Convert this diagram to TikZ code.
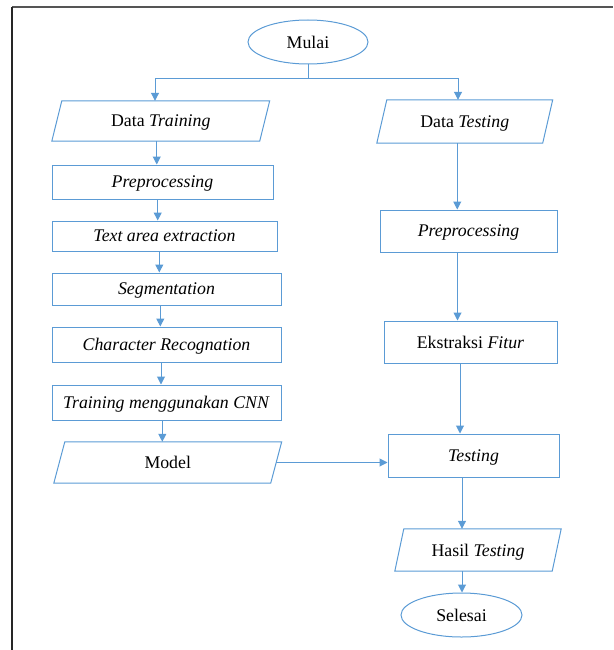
\documentclass[tikz,border=0pt]{standalone}
\usepackage{fontspec}
\setmainfont{Liberation Serif}
\usetikzlibrary{shapes.geometric,arrows.meta}
\definecolor{flow}{HTML}{5B9BD5}
\definecolor{frameg}{HTML}{555555}
\begin{document}
\begin{tikzpicture}[x=1pt,y=-1pt,
  every node/.style={font=\fontsize{17.8}{21}\selectfont, text=black, inner sep=0pt, text depth=0pt},
  procbox/.style={draw=flow, line width=1pt, rectangle, minimum width=#1},
  termbox/.style={draw=flow, line width=1pt, ellipse, minimum width=120pt, minimum height=44pt},
  iobox/.style={rectangle, minimum width=#1},
  conn/.style={draw=flow, line width=1pt},
  arr/.style={conn, -{Triangle[width=8pt,length=8pt]}},
  slantline/.style={draw=flow, line width=1pt}
]
\useasboundingbox (0,0) rectangle (613,650);
% frame
\draw[frameg, line width=2pt] (12,7.5) -- (613,7.5);
\draw[black!85, line width=2pt] (12,7) -- (12,650);

% nodes
\node[termbox] (mulai) at (308,42) {Mulai};

\node[iobox=207.5pt, minimum height=40pt] (dtr) at (160.75,121) {Data \textit{Training}};
\node[iobox=165.5pt, minimum height=43pt] (dts) at (464.75,121.5) {Data \textit{Testing}};

\node[procbox=221pt, minimum height=34pt] (pre1) at (162.5,182) {\textit{Preprocessing}};
\node[procbox=225pt, minimum height=30pt] (tae) at (164.5,236) {\textit{Text area extraction}};
\node[procbox=229pt, minimum height=32pt] (seg) at (166.5,289) {\textit{Segmentation}};
\node[procbox=229pt, minimum height=35pt] (cr) at (166.5,344.5) {\textit{Character Recognation}};
\node[procbox=229pt, minimum height=35pt] (tcnn) at (166.5,402.5) {\textit{Training menggunakan CNN}};
\node[iobox=216.5pt, minimum height=41pt] (model) at (167.75,462.5) {Model};

\node[procbox=177pt, minimum height=42pt] (pre2) at (468.5,231) {\textit{Preprocessing}};
\node[procbox=173pt, minimum height=42pt] (ef) at (470.5,342) {Ekstraksi \textit{Fitur}};
\node[procbox=171pt, minimum height=43pt] (test) at (473.5,455.5) {\textit{Testing}};
\node[iobox=157pt, minimum height=42pt] (hasil) at (478,550) {Hasil \textit{Testing}};
\node[termbox, minimum width=121pt] (selesai) at (461.5,615) {Selesai};

% parallelogram outlines
\draw[slantline] ([xshift=5pt]dtr.north west) -- ([xshift=5pt]dtr.north east) -- ([xshift=-5pt]dtr.south east) -- ([xshift=-5pt]dtr.south west) -- cycle;
\draw[slantline] ([xshift=5pt]dts.north west) -- ([xshift=5pt]dts.north east) -- ([xshift=-5pt]dts.south east) -- ([xshift=-5pt]dts.south west) -- cycle;
\draw[slantline] ([xshift=5.5pt]model.north west) -- ([xshift=5.5pt]model.north east) -- ([xshift=-5.5pt]model.south east) -- ([xshift=-5.5pt]model.south west) -- cycle;
\draw[slantline] ([xshift=4.5pt]hasil.north west) -- ([xshift=4.5pt]hasil.north east) -- ([xshift=-4.5pt]hasil.south east) -- ([xshift=-4.5pt]hasil.south west) -- cycle;

% connectors
\draw[conn] (mulai.south) -- ++(0,14) coordinate (br);
\draw[arr] (br) -| ([xshift=-5.75pt]dtr.north);
\draw[arr] (br) -| ([xshift=-6.75pt]dts.north);

\draw[arr] ([xshift=-4pt]dtr.south) -- ([xshift=-5.75pt]pre1.north);
\draw[arr] ([xshift=-4.8pt]pre1.south) -- ([xshift=-6.8pt]tae.north);
\draw[arr] ([xshift=-5.2pt]tae.south) -- ([xshift=-7.2pt]seg.north);
\draw[arr] ([xshift=-6.2pt]seg.south) -- ([xshift=-6.2pt]cr.north);
\draw[arr] ([xshift=-5.5pt]cr.south) -- ([xshift=-5.5pt]tcnn.north);
\draw[arr] ([xshift=-4.2pt]tcnn.south) -- ([xshift=-5.45pt]model.north);

\draw[arr] (model.east) -- (model.east -| test.west);

\draw[arr] ([xshift=-7.5pt]dts.south) -- ([xshift=-11.25pt]pre2.north);
\draw[arr] ([xshift=-11pt]pre2.south) -- ([xshift=-13pt]ef.north);
\draw[arr] ([xshift=-10.5pt]ef.south) -- ([xshift=-13.5pt]test.north);
\draw[arr] ([xshift=-11.5pt]test.south) -- ([xshift=-16pt]hasil.north);
\draw[arr] ([xshift=-16pt]hasil.south) -- ([xshift=0.5pt]selesai.north);
\end{tikzpicture}
\end{document}
